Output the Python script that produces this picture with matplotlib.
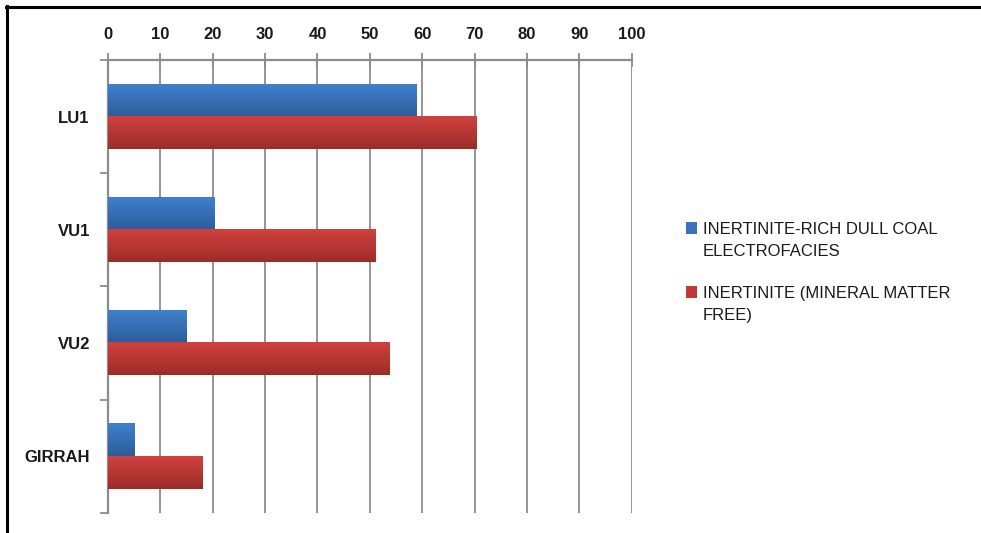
import numpy as np
import matplotlib
matplotlib.use("Agg")
from matplotlib import pyplot as plt
from matplotlib.lines import Line2D
from matplotlib.patches import Rectangle

sites = ['LU1', 'VU1', 'VU2', 'GIRRAH']
dull_coal = [58.8, 20.3, 15.0, 5.1]
inertinite_mmf = [70.3, 51.0, 53.7, 18.0]
series_labels = ['INERTINITE-RICH DULL COAL\nELECTROFACIES',
                 'INERTINITE (MINERAL MATTER\nFREE)']
series_colors = ['#3a72bb', '#be3835']
x_ticks = list(range(0, 101, 10))

plt.rcParams['font.family'] = ['Liberation Sans', 'DejaVu Sans']


def gradient_bars(ax, bars, top_col, bot_col):
    top = np.array(matplotlib.colors.to_rgb(top_col))
    bot = np.array(matplotlib.colors.to_rgb(bot_col))
    t = np.linspace(0, 1, 64)[:, None, None]
    img = top * (1 - t) + bot * t
    for b in bars:
        x0, y0 = b.get_x(), b.get_y()
        w, h = b.get_width(), b.get_height()
        # inverted y-axis: the smaller y is visually on top
        ax.imshow(img, extent=(x0, x0 + w, y0 + h, y0), origin='upper',
                  aspect='auto', zorder=3, interpolation='bilinear')


def main():
    fig = plt.figure(figsize=(9.81, 5.33), dpi=100)
    ax = fig.add_axes([0.110, 0.0375, 0.534, 0.850])

    y = np.arange(len(sites))
    h = 0.285
    b1 = ax.barh(y - h / 2, dull_coal, height=h, color='none', zorder=3)
    b2 = ax.barh(y + h / 2, inertinite_mmf, height=h, color='none', zorder=3)
    gradient_bars(ax, b1, '#3f80cd', '#2c5d9a')
    gradient_bars(ax, b2, '#d0413d', '#9c2c29')

    ax.set_xlim(0, 100)
    ax.set_ylim(len(sites) - 0.5, -0.5)
    ax.xaxis.tick_top()
    ax.set_xticks(x_ticks)
    ax.set_xticklabels([str(v) for v in x_ticks], fontsize=12,
                       fontweight='bold', color='#1a1a1a')
    ax.tick_params(axis='x', direction='inout', length=10, width=1.3,
                   color='#8c8c8c', pad=8)
    ax.grid(axis='x', color='#8c8c8c', linewidth=1.3, zorder=0)

    ax.set_yticks(y)
    ax.set_yticklabels(sites, fontsize=12, fontweight='bold',
                       color='#1a1a1a')
    ax.tick_params(axis='y', length=0, pad=13)
    ax.set_yticks(np.arange(len(sites) + 1) - 0.5, minor=True)
    ax.tick_params(axis='y', which='minor', length=6, width=1.3,
                   color='#8c8c8c')

    for s in ['right', 'bottom']:
        ax.spines[s].set_visible(False)
    for s in ['left', 'top']:
        ax.spines[s].set_color('#8c8c8c')
        ax.spines[s].set_linewidth(1.6)

    # legend drawn by hand to get the wide line spacing of the original
    for i, (lab, col) in enumerate(zip(series_labels, series_colors)):
        top_line = 0.5722 - i * 0.1201
        fig.add_artist(Rectangle((0.6993, top_line - 0.0105), 0.0112, 0.021,
                                 facecolor=col, transform=fig.transFigure))
        fig.text(0.7166, top_line + 0.012, lab, fontsize=12,
                 color='#1a1a1a', va='top', ha='left', linespacing=1.6)

    # outer frame: left and top edges only
    fig.add_artist(Line2D([0.0071, 0.0071], [0, 0.988], color='black',
                          linewidth=2.2, transform=fig.transFigure))
    fig.add_artist(Line2D([0.0061, 1.0], [0.987, 0.987], color='black',
                          linewidth=2.2, transform=fig.transFigure))

    fig.savefig('out.png', dpi=100)


if __name__ == "__main__":
    main()
